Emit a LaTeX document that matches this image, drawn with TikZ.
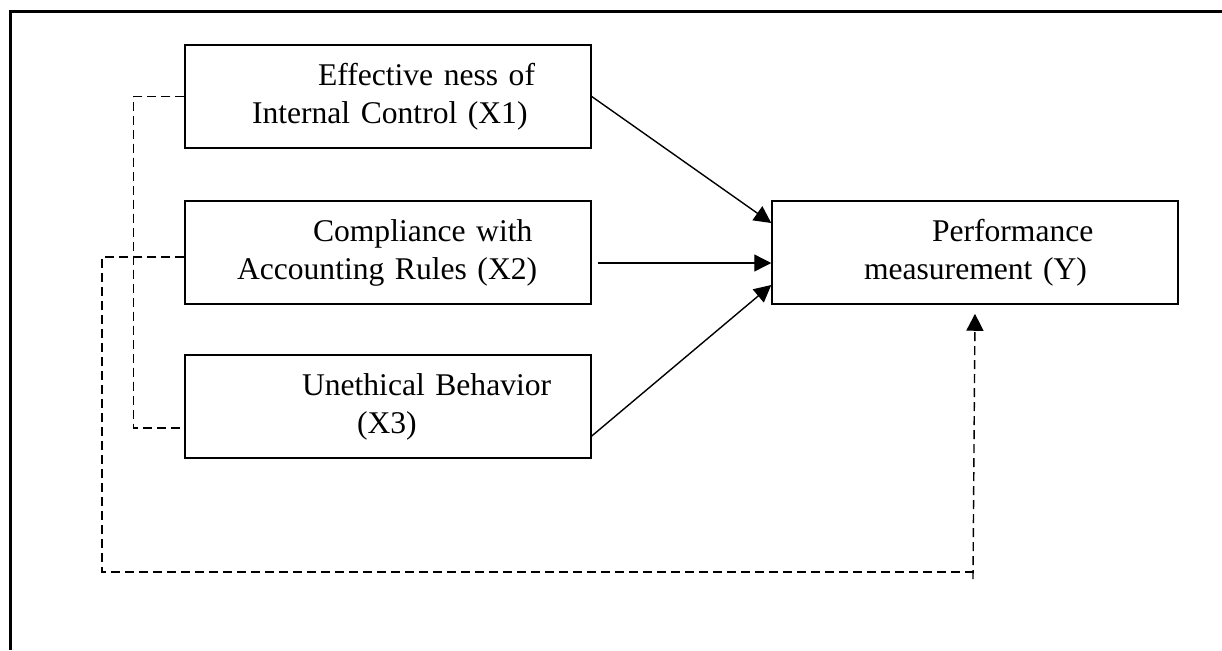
\documentclass[tikz,border=0pt]{standalone}
\usepackage{fontspec}
\setmainfont{Liberation Serif}
\usetikzlibrary{arrows.meta,positioning}

\tikzset{
  box/.style={draw,line width=0.75pt,inner sep=0pt,text width=203pt,
    minimum height=51.5pt,align=left,font=\fontsize{15.8pt}{19pt}\selectfont},
  arr/.style={line width=0.7pt,-{Triangle[length=8.5pt,width=8.5pt]}},
  link/.style={line width=0.7pt,dash pattern=on 4.5pt off 2.5pt}
}

\begin{document}
\begin{tikzpicture}[x=0.5pt,y=-0.5pt,on grid]
  \useasboundingbox (0,0) rectangle (1222,650);
  \draw[line width=1.5pt] (1222,11.5) -- (10.5,11.5) -- (10.5,650);
  \path
  node[box] (X1) at (388,96.5)
  {\hspace*{66.5pt}Effective ness of\\\hspace*{33.5pt}Internal Control (X1)}
  node[box,below=78pt of X1] (X2)
  {\hspace*{64pt}Compliance with\\\hspace*{26pt}Accounting Rules (X2)}
  node[box,below=77pt of X2] (X3)
  {\hspace*{58.5pt}Unethical Behavior\\\hspace*{86pt}(X3)}
  node[box,right=293.5pt of X2] (Y)
  {\hspace*{80pt}Performance\\\hspace*{46pt}measurement (Y)}
  ;
  \coordinate (tick) at (973,579);
  \path[arr]
  (X1.east) edge ([yshift=14.75pt]Y.west)
  ([xshift=3pt,yshift=-5.25pt]X2.east) edge ([yshift=-5.25pt]Y.west)
  ([yshift=-14.75pt]X3.east) edge ([yshift=-16.25pt]Y.west)
  ;
  \draw[link] (X1.west) -- ++(-25.5pt,0) |- ([yshift=-10.75pt]X3.west);
  \draw[link] ([yshift=-2.25pt]X2.west) -| (102,572) -- (973,572);
  \draw[link,arr] (tick) -- ([yshift=-4.5pt]Y.south);
\end{tikzpicture}
\end{document}
